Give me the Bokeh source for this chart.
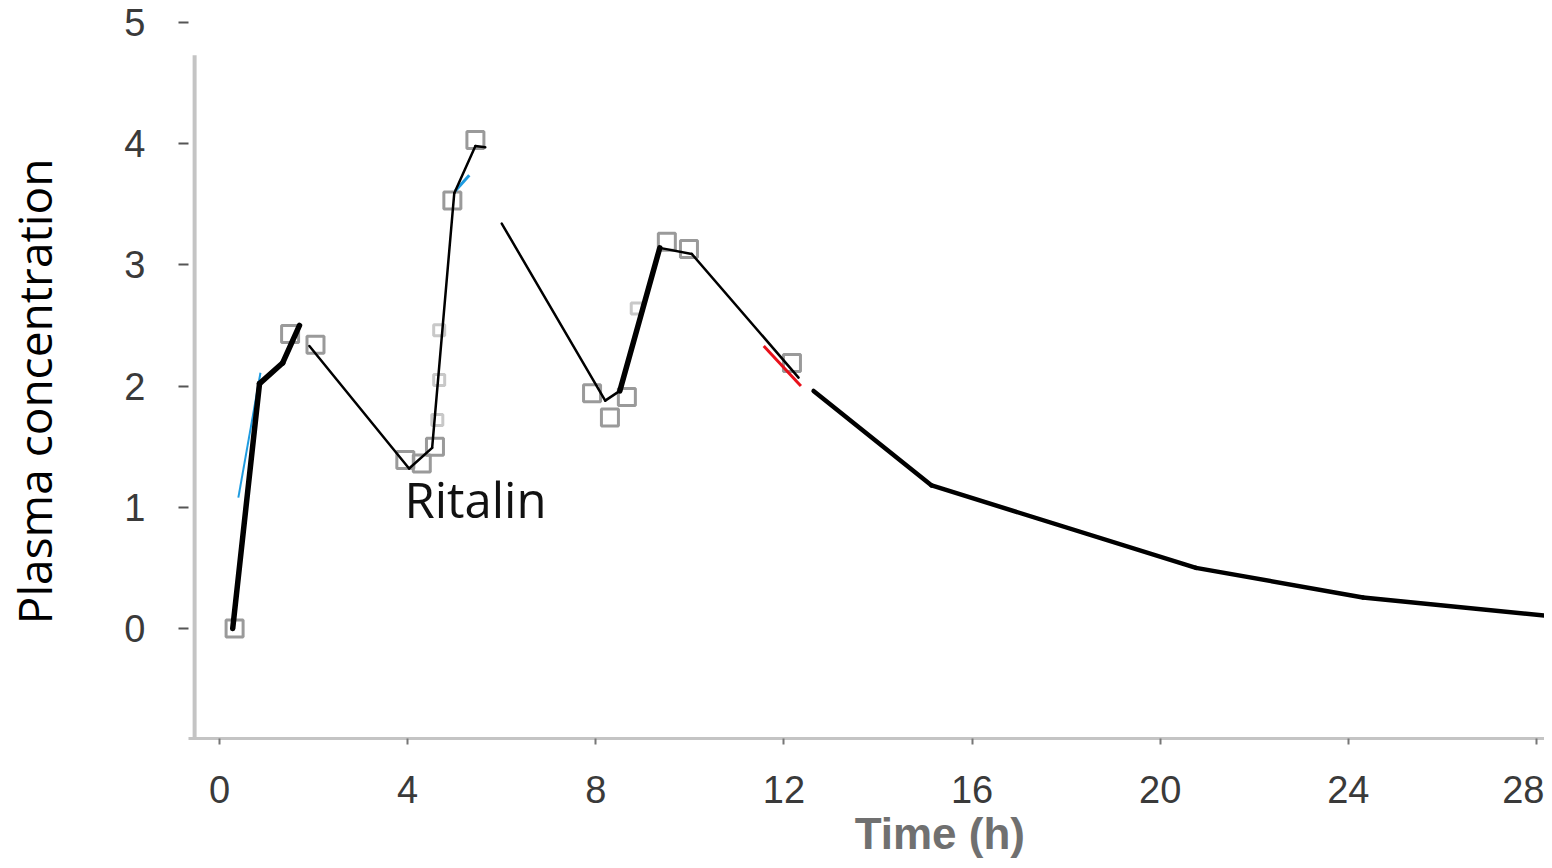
from bokeh.plotting import figure
from bokeh.models import Range1d, FixedTicker, Label
from bokeh.embed import file_html
from bokeh.resources import INLINE

# ---- data ----
time_h = [0.28, 0.85, 1.34, 1.70, 1.91, 4.03, 4.52, 4.99, 5.44, 5.65, 6.00,
          8.20, 8.51, 9.36, 10.04, 12.31, 12.63, 15.14, 20.76, 24.31, 28.17]
conc = [0.00, 2.02, 2.19, 2.50, 2.33, 1.32, 1.49, 3.59, 3.98, 3.97, 3.34,
        1.88, 1.96, 3.14, 3.09, 2.07, 1.96, 1.18, 0.50, 0.256, 0.107]
# line width of each segment (0 = gap in the trace)
seg_width = [5.5, 5.5, 5.5, 0, 2.5, 2.5, 2.5, 2.5, 2.5, 0, 2.5, 2.5, 5.5, 2.5, 2.5, 0, 4.5, 4.5, 4.5, 4.5]

marker_t = [0.32, 1.50, 2.04, 3.95, 4.30, 4.58, 4.95, 5.44, 7.92, 8.30, 8.66, 9.51, 9.98, 12.17]
marker_c = [0.00, 2.43, 2.34, 1.39, 1.36, 1.50, 3.53, 4.03, 1.94, 1.74, 1.91, 3.19, 3.13, 2.19]
faint_t = [4.67, 4.67, 4.63, 8.87]
faint_c = [2.46, 2.05, 1.72, 2.64]

blue_t = [0.40, 0.87]
blue_c = [1.08, 2.11]
blue2_t = [5.01, 5.31]
blue2_c = [3.61, 3.74]
red_t = [11.57, 12.36]
red_c = [2.33, 2.00]

x_ticks = [0, 4, 8, 12, 16, 20, 24, 28]
y_ticks = [0, 1, 2, 3, 4, 5]

X_MIN, X_MAX = -0.66, 28.17
Y_MIN, Y_MAX = -0.908, 5.115
AXIS_X = -0.53
AXIS_TOP = 4.73
NB = "\u00a0"

p = figure(width=1544, height=860, output_backend="svg", toolbar_location=None,
           x_range=Range1d(X_MIN, X_MAX), y_range=Range1d(Y_MIN, Y_MAX),
           min_border_left=186, min_border_right=0, min_border_top=8,
           min_border_bottom=122)
p.outline_line_color = None
p.grid.visible = False
p.background_fill_color = "white"

# x axis
xa = p.xaxis[0]
xa.ticker = FixedTicker(ticks=x_ticks)
xa.axis_line_color = "#c4c4c4"
xa.axis_line_width = 3
xa.major_tick_line_color = "#777777"
xa.major_tick_line_width = 2
xa.major_tick_out = 6
xa.major_tick_in = 0
xa.minor_tick_line_color = None
xa.major_label_text_font = "Liberation Sans"
xa.major_label_text_font_size = "38px"
xa.major_label_text_color = "#3a3a3a"
xa.major_label_standoff = 31
xa.axis_label = NB * 12 + "Time (h)"
xa.axis_label_text_font = "Liberation Sans"
xa.axis_label_text_font_style = "bold"
xa.axis_label_text_font_size = "44px"
xa.axis_label_text_color = "#707070"
xa.axis_label_standoff = 3

# y axis
ya = p.yaxis[0]
ya.ticker = FixedTicker(ticks=y_ticks)
ya.axis_line_color = None
ya.major_tick_line_color = "#555555"
ya.major_tick_line_width = 2
ya.major_tick_out = 10
ya.major_tick_in = 0
ya.minor_tick_line_color = None
ya.major_label_text_font = "Liberation Sans"
ya.major_label_text_font_size = "38px"
ya.major_label_text_color = "#3a3a3a"
ya.major_label_standoff = 33
ya.axis_label = "Plasma concentration" + NB * 3
ya.axis_label_text_font = "Open Sans"
ya.axis_label_text_font_style = "normal"
ya.axis_label_text_font_size = "46px"
ya.axis_label_text_color = "black"
ya.axis_label_standoff = 56

# left gray axis line
p.segment(x0=[AXIS_X], y0=[Y_MIN], x1=[AXIS_X], y1=[AXIS_TOP],
          line_color="#c4c4c4", line_width=4)

# markers
p.scatter(marker_t, marker_c, marker="square", size=17, fill_color=None,
          line_color="#9a9a9a", line_width=3)
p.scatter(faint_t, faint_c, marker="square", size=11, fill_color=None,
          line_color="#c8c8c8", line_width=3)

# coloured traces
p.line(blue_t, blue_c, line_color="#1e9be0", line_width=2)
p.line(blue2_t, blue2_c, line_color="#1e9be0", line_width=3)
p.line(red_t, red_c, line_color="#e8101a", line_width=3)

# main black curve
keep = [i for i in range(len(seg_width)) if seg_width[i] > 0]
p.segment(x0=[time_h[i] for i in keep], y0=[conc[i] for i in keep],
          x1=[time_h[i + 1] for i in keep], y1=[conc[i + 1] for i in keep],
          line_color="black", line_width=[seg_width[i] for i in keep],
          line_cap="round")

# annotation
p.add_layout(Label(x=3.93, y=1.065, text="Ritalin", text_font="Open Sans",
                   text_font_size="49px", text_color="#111111",
                   text_baseline="alphabetic", text_align="left"))

open("out.html", "w").write(file_html(p, INLINE))
